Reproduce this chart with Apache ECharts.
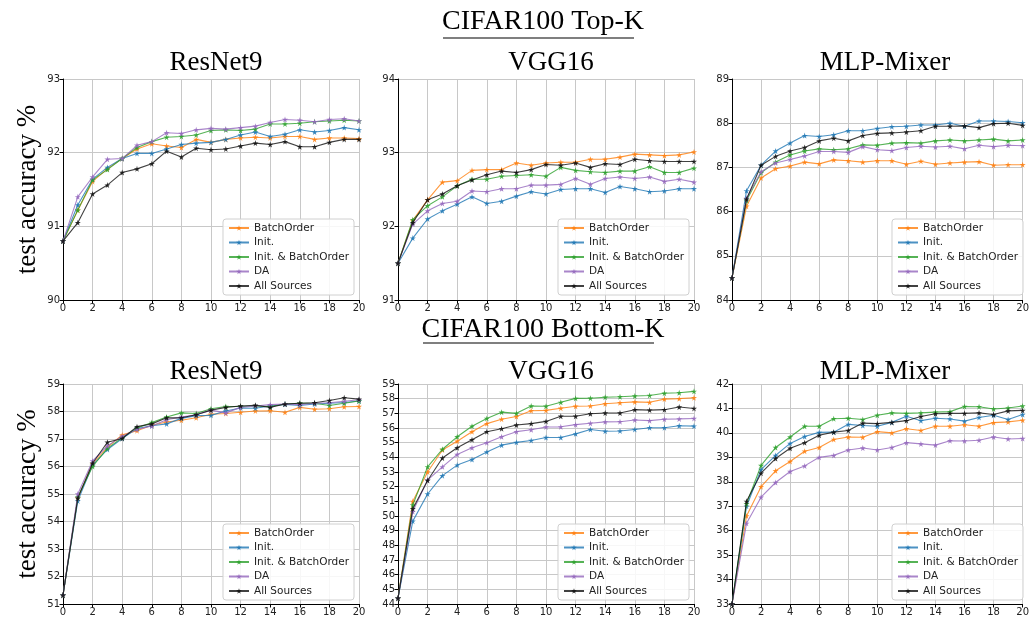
<!DOCTYPE html>
<html>
<head>
<meta charset="utf-8">
<script src="https://cdn.jsdelivr.net/npm/echarts@6/dist/echarts.min.js"></script>
<style>
  html, body { margin: 0; padding: 0; background: #fff; }
  #chart { width: 1032px; height: 617px; }
</style>
</head>
<body>
<div id="chart"></div>
<script>
  const epochs = [0, 1, 2, 3, 4, 5, 6, 7, 8, 9, 10, 11, 12, 13, 14, 15, 16, 17, 18, 19, 20];
  const sourceNames = ["BatchOrder", "Init.", "Init. & BatchOrder", "DA", "All Sources"];
  const modelNames = ["ResNet9", "VGG16", "MLP-Mixer"];
  const rowTitles = ["CIFAR100 Top-K", "CIFAR100 Bottom-K"];

  // y-axis ranges per panel: [min, max]
  const yRanges = [[90, 93], [91, 94], [84, 89], [51, 59], [44, 59], [33, 42]];

  // Top-K, ResNet9
  const topResnetBatchOrder = [90.8, 91.22, 91.61, 91.78, 91.92, 92.05, 92.12, 92.09, 92.07, 92.18, 92.14, 92.18, 92.2, 92.21, 92.2, 92.22, 92.22, 92.18, 92.2, 92.2, 92.19];
  const topResnetInit = [90.8, 91.29, 91.64, 91.8, 91.92, 91.99, 91.99, 92.05, 92.11, 92.13, 92.14, 92.18, 92.24, 92.28, 92.22, 92.25, 92.31, 92.28, 92.3, 92.34, 92.31];
  const topResnetInitBatch = [90.8, 91.22, 91.63, 91.77, 91.92, 92.07, 92.15, 92.21, 92.22, 92.24, 92.3, 92.31, 92.3, 92.32, 92.39, 92.39, 92.4, 92.42, 92.43, 92.44, 92.43];
  const topResnetDA = [90.8, 91.4, 91.67, 91.91, 91.92, 92.1, 92.15, 92.27, 92.26, 92.31, 92.33, 92.32, 92.34, 92.36, 92.41, 92.45, 92.44, 92.42, 92.45, 92.46, 92.43];
  const topResnetAll = [90.8, 91.05, 91.44, 91.56, 91.73, 91.78, 91.85, 92.02, 91.94, 92.06, 92.04, 92.05, 92.09, 92.13, 92.11, 92.15, 92.08, 92.08, 92.14, 92.18, 92.18];

  // Top-K, VGG16
  const topVggBatchOrder = [91.5, 92.08, 92.36, 92.6, 92.62, 92.76, 92.77, 92.77, 92.86, 92.83, 92.86, 92.87, 92.87, 92.91, 92.91, 92.94, 92.98, 92.97, 92.96, 92.97, 93.01];
  const topVggInit = [91.5, 91.84, 92.1, 92.21, 92.3, 92.4, 92.31, 92.34, 92.41, 92.47, 92.44, 92.5, 92.51, 92.51, 92.46, 92.54, 92.51, 92.47, 92.48, 92.51, 92.51];
  const topVggInitBatch = [91.5, 92.09, 92.28, 92.4, 92.55, 92.64, 92.64, 92.68, 92.69, 92.7, 92.68, 92.8, 92.76, 92.74, 92.73, 92.75, 92.75, 92.81, 92.73, 92.73, 92.79];
  const topVggDA = [91.5, 92.03, 92.21, 92.31, 92.34, 92.48, 92.47, 92.51, 92.51, 92.56, 92.56, 92.57, 92.65, 92.57, 92.65, 92.67, 92.65, 92.67, 92.61, 92.64, 92.6];
  const topVggAll = [91.5, 92.05, 92.36, 92.44, 92.55, 92.63, 92.7, 92.75, 92.73, 92.77, 92.84, 92.83, 92.86, 92.8, 92.85, 92.84, 92.91, 92.89, 92.88, 92.88, 92.88];

  // Top-K, MLP-Mixer
  const topMixerBatchOrder = [84.5, 86.12, 86.76, 86.97, 87.03, 87.12, 87.08, 87.17, 87.15, 87.12, 87.15, 87.15, 87.07, 87.14, 87.07, 87.1, 87.12, 87.13, 87.05, 87.06, 87.06];
  const topMixerInit = [84.5, 86.47, 87.05, 87.37, 87.55, 87.72, 87.7, 87.74, 87.83, 87.83, 87.88, 87.92, 87.93, 87.96, 87.96, 88.0, 87.93, 88.05, 88.05, 88.04, 88.01];
  const topMixerInitBatch = [84.5, 86.25, 86.88, 87.12, 87.28, 87.37, 87.42, 87.4, 87.42, 87.51, 87.5, 87.55, 87.56, 87.55, 87.6, 87.62, 87.6, 87.62, 87.64, 87.6, 87.62];
  const topMixerDA = [84.5, 86.3, 86.9, 87.1, 87.18, 87.26, 87.36, 87.36, 87.34, 87.47, 87.4, 87.38, 87.45, 87.48, 87.46, 87.48, 87.42, 87.5, 87.47, 87.5, 87.49];
  const topMixerAll = [84.5, 86.28, 87.05, 87.25, 87.37, 87.45, 87.6, 87.66, 87.6, 87.72, 87.77, 87.78, 87.8, 87.83, 87.93, 87.93, 87.94, 87.9, 87.99, 88.0, 87.95];

  // Bottom-K, ResNet9
  const botResnetBatchOrder = [51.32, 54.85, 56.1, 56.7, 57.15, 57.3, 57.5, 57.62, 57.68, 57.77, 57.9, 57.93, 57.97, 58.02, 58.03, 57.97, 58.15, 58.08, 58.1, 58.17, 58.18];
  const botResnetInit = [51.32, 54.75, 56.05, 56.62, 57.02, 57.38, 57.48, 57.55, 57.75, 57.85, 57.86, 58.02, 58.13, 58.12, 58.2, 58.26, 58.22, 58.27, 58.3, 58.33, 58.38];
  const botResnetInitBatch = [51.32, 54.9, 56.0, 56.66, 57.05, 57.4, 57.6, 57.8, 57.95, 57.93, 58.1, 58.18, 58.18, 58.2, 58.18, 58.27, 58.3, 58.3, 58.22, 58.3, 58.38];
  const botResnetDA = [51.32, 55.0, 56.2, 56.75, 57.1, 57.35, 57.47, 57.7, 57.8, 57.88, 58.05, 57.95, 58.15, 58.2, 58.25, 58.27, 58.25, 58.3, 58.32, 58.37, 58.43];
  const botResnetAll = [51.32, 54.85, 56.12, 56.88, 57.02, 57.45, 57.55, 57.77, 57.77, 57.88, 58.05, 58.15, 58.2, 58.23, 58.15, 58.27, 58.3, 58.32, 58.4, 58.5, 58.45];

  // Bottom-K, VGG16
  const botVggBatchOrder = [44.4, 51.0, 53.0, 54.5, 55.1, 55.75, 56.3, 56.6, 56.78, 57.18, 57.2, 57.35, 57.48, 57.5, 57.65, 57.72, 57.78, 57.75, 57.97, 58.0, 58.06];
  const botVggInit = [44.4, 49.65, 51.5, 52.75, 53.47, 53.85, 54.37, 54.83, 55.02, 55.15, 55.35, 55.35, 55.6, 55.9, 55.78, 55.8, 55.9, 56.02, 56.02, 56.15, 56.13];
  const botVggInitBatch = [44.4, 50.75, 53.35, 54.55, 55.4, 56.12, 56.65, 57.08, 57.0, 57.5, 57.48, 57.75, 58.02, 58.03, 58.1, 58.13, 58.18, 58.22, 58.37, 58.4, 58.5];
  const botVggDA = [44.4, 50.3, 52.45, 53.35, 54.2, 54.65, 55.0, 55.4, 55.75, 55.88, 56.07, 56.08, 56.23, 56.32, 56.42, 56.43, 56.55, 56.5, 56.6, 56.62, 56.65];
  const botVggAll = [44.4, 50.5, 52.42, 53.95, 54.65, 55.2, 55.75, 55.95, 56.2, 56.3, 56.45, 56.8, 56.8, 56.97, 57.02, 57.02, 57.25, 57.22, 57.25, 57.43, 57.33];

  // Bottom-K, MLP-Mixer
  const botMixerBatchOrder = [33.0, 36.6, 37.8, 38.45, 38.83, 39.25, 39.4, 39.73, 39.83, 39.82, 40.05, 40.0, 40.17, 40.1, 40.27, 40.27, 40.33, 40.27, 40.42, 40.45, 40.52];
  const botMixerInit = [33.0, 37.0, 38.5, 39.08, 39.57, 39.85, 40.02, 40.03, 40.35, 40.3, 40.27, 40.43, 40.68, 40.5, 40.6, 40.57, 40.48, 40.63, 40.72, 40.55, 40.75];
  const botMixerInitBatch = [33.0, 37.1, 38.67, 39.4, 39.83, 40.27, 40.27, 40.58, 40.6, 40.55, 40.72, 40.82, 40.8, 40.82, 40.85, 40.87, 41.08, 41.07, 40.98, 41.02, 41.1];
  const botMixerDA = [33.0, 36.3, 37.37, 37.97, 38.42, 38.65, 39.0, 39.08, 39.3, 39.38, 39.3, 39.4, 39.6, 39.55, 39.5, 39.68, 39.67, 39.7, 39.83, 39.75, 39.77];
  const botMixerAll = [33.0, 37.2, 38.35, 38.95, 39.37, 39.6, 39.9, 40.03, 40.1, 40.4, 40.38, 40.43, 40.5, 40.67, 40.78, 40.8, 40.8, 40.82, 40.75, 40.9, 40.92];

  const panels = [
    [topResnetBatchOrder, topResnetInit, topResnetInitBatch, topResnetDA, topResnetAll],
    [topVggBatchOrder, topVggInit, topVggInitBatch, topVggDA, topVggAll],
    [topMixerBatchOrder, topMixerInit, topMixerInitBatch, topMixerDA, topMixerAll],
    [botResnetBatchOrder, botResnetInit, botResnetInitBatch, botResnetDA, botResnetAll],
    [botVggBatchOrder, botVggInit, botVggInitBatch, botVggDA, botVggAll],
    [botMixerBatchOrder, botMixerInit, botMixerInitBatch, botMixerDA, botMixerAll]
  ];

  const colors = ["#ff7f0e", "#1f77b4", "#2ca02c", "#9467bd", "#111111"];
  const star = "path://M50,0 L61,35 L98,35 L68,57 L79,91 L50,70 L21,91 L32,57 L2,35 L39,35 Z";
  const serif = "'Liberation Serif', 'DejaVu Serif', serif";
  const sans = "'DejaVu Sans', sans-serif";

  const W = 1032;
  const H = 617;
  const colLeft = [63, 398, 732];
  const plotW = 296;
  const rowTop = [79, 384];
  const plotH = 221;

  const chart = echarts.init(document.getElementById("chart"), null, { renderer: "canvas" });

  const grid = [];
  const xAxis = [];
  const yAxis = [];
  const series = [];
  const legend = [];
  const title = [];

  panels.forEach((lines, p) => {
    const row = Math.floor(p / 3);
    const col = p % 3;
    const left = colLeft[col];
    const top = rowTop[row];
    const [ymin, ymax] = yRanges[p];

    grid.push({ left, top, width: plotW, height: plotH, containLabel: false });

    xAxis.push({
      type: "value",
      gridIndex: p,
      min: 0,
      max: 20,
      interval: 2,
      axisLine: { show: true, onZero: false, lineStyle: { color: "#000", width: 1 } },
      axisTick: { show: true, length: 3.5, lineStyle: { color: "#000" } },
      axisLabel: { fontFamily: sans, fontSize: 10, color: "#222", margin: 3 },
      splitLine: { show: true, lineStyle: { color: "#c8c8c8", width: 1 } }
    });

    yAxis.push({
      type: "value",
      gridIndex: p,
      min: ymin,
      max: ymax,
      interval: 1,
      name: col === 0 ? "test accuracy %" : "",
      nameLocation: "middle",
      nameRotate: 90,
      nameGap: 22,
      nameTextStyle: { fontFamily: serif, fontSize: 27, color: "#000" },
      axisLine: { show: true, onZero: false, lineStyle: { color: "#000", width: 1 } },
      axisTick: { show: true, length: 3.5, lineStyle: { color: "#000" } },
      axisLabel: { fontFamily: sans, fontSize: 10, color: "#222", margin: 3 },
      splitLine: { show: true, lineStyle: { color: "#c8c8c8", width: 1 } }
    });

    lines.forEach((values, s) => {
      series.push({
        type: "line",
        name: sourceNames[s],
        xAxisIndex: p,
        yAxisIndex: p,
        data: epochs.map((e, i) => [e, values[i]]),
        symbol: star,
        symbolSize: 6,
        showSymbol: true,
        color: colors[s],
        lineStyle: { width: 1.1, color: colors[s], opacity: 0.8 },
        itemStyle: { color: colors[s], opacity: 0.85 },
        z: 2 + s,
        animation: false
      });
    });

    legend.push({
      data: sourceNames,
      orient: "vertical",
      right: W - (left + plotW) + 5,
      bottom: H - (top + plotH) + 5,
      itemWidth: 20,
      itemHeight: 7,
      itemGap: 2.5,
      padding: [3, 5, 3, 5],
      backgroundColor: "rgba(255,255,255,0.85)",
      borderColor: "#d0d0d0",
      borderWidth: 1,
      borderRadius: 3,
      textStyle: { fontFamily: sans, fontSize: 10.5, color: "#222", lineHeight: 12 },
      selectedMode: false
    });

    title.push({
      text: modelNames[col],
      left: left + plotW / 2,
      textAlign: "center",
      top: row === 0 ? 44 : 353,
      textStyle: { fontFamily: serif, fontSize: 27, fontWeight: "normal", color: "#000" }
    });
  });

  title.push({
    text: rowTitles[0],
    left: 538,
    textAlign: "center",
    top: 3,
    textStyle: { fontFamily: serif, fontSize: 28, fontWeight: "normal", color: "#000" }
  });
  title.push({
    text: rowTitles[1],
    left: 538,
    textAlign: "center",
    top: 311,
    textStyle: { fontFamily: serif, fontSize: 28, fontWeight: "normal", color: "#000" }
  });

  chart.setOption({
    animation: false,
    backgroundColor: "#fff",
    title,
    legend,
    grid,
    xAxis,
    yAxis,
    series,
    graphic: [
      { type: "line", shape: { x1: 443, y1: 38, x2: 634, y2: 38 }, style: { stroke: "#000", lineWidth: 1.2 } },
      { type: "line", shape: { x1: 423, y1: 343, x2: 654, y2: 343 }, style: { stroke: "#000", lineWidth: 1.2 } }
    ]
  });

  window.addEventListener("resize", () => chart.resize(), { passive: true });
</script>
</body>
</html>
